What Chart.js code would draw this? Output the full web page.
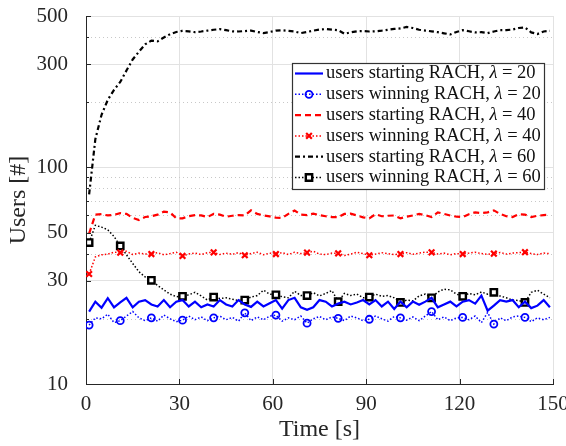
<!DOCTYPE html>
<html><head><meta charset="utf-8">
<script src="https://cdn.jsdelivr.net/npm/chart.js@4/dist/chart.umd.min.js"></script>
<style>html,body{margin:0;padding:0;background:#fff}</style>
</head><body>
<canvas id="c" width="566" height="446"></canvas>
<script>
// ---- data ----
const times = [1,3,5,7,9,11,13,15,17,19,21,23,25,27,29,31,33,35,37,39,41,43,45,47,49,51,53,55,57,59,61,63,65,67,69,71,73,75,77,79,81,83,85,87,89,91,93,95,97,99,101,103,105,107,109,111,113,115,117,119,121,123,125,127,129,131,133,135,137,139,141,143,145,147,149];

const startingL20 = [21.6,24,22.5,24.9,22.6,23.8,25,22.6,24,24.4,23.3,22.8,24.4,22.6,24,24.4,22.8,24,22.6,23.3,22.8,24.4,23.3,22.8,24.4,23.3,22.7,24,22.8,23.6,24.4,22.3,24.4,25,22.6,22,22.6,24.4,24,22.8,23.5,24,23.3,23.8,24.4,23.3,24.4,22.8,24,22.2,24,22.6,24,23.2,24,25,22.6,23.3,24,22.8,24,24.4,23.5,25.6,21.8,23,24.4,24,24.4,22.6,24,22.4,23,24.4,22.6];

const winningL20 = [18.7,20.2,20,21,19.2,19.6,20.6,21.6,20.2,19.6,20.2,19.5,20.8,20,19.4,19.7,20.6,19.8,20.4,19.6,20.2,20.6,19.8,20.3,19.5,21.3,19.6,20.4,19.8,20.6,20.8,19.5,20.2,19.8,20.6,19.1,20,20.5,19.8,20.4,20.1,19.6,20.6,20.2,19.6,19.9,20.6,20,19.5,20.5,20.2,19.7,20.4,19.6,20.6,21.6,19.8,20.4,19.6,20.2,20.3,19.8,20.6,19.2,21.4,18.9,20.2,19.6,20.4,20.6,20.3,19.4,20.2,19.8,20.3];

const startingL40 = [49.5,60.5,60.8,60,60.4,61.5,61,58.5,57.2,59,59.5,60.5,62.5,62,58.2,58.2,59.5,60.2,60,59,61,60.5,59.2,59.8,60.2,60,63.3,61,60,59.4,58.6,58.4,61,63.2,60.5,60.2,61.2,60.2,59.5,59,59,61,61.2,60,58.8,58.2,60.8,59.5,59.8,60,58.2,59.2,60,61,60.2,59,62,61,60,59.2,59,60.8,62,61.5,62,63.3,61,59.5,59,60.8,60.5,59,59.8,60.2,60.5];

const winningL40 = [32.2,38.6,39.5,39.8,40.6,40.4,41,39.6,40.2,39.8,39.8,40.4,39.5,40,40.6,39,39.8,40.2,39.6,40.4,40.5,39.6,40.2,39.7,40.4,39.3,40,40.6,39.5,40.2,39.8,40.4,39.6,40.6,40,40.4,41,39.8,39.6,40.2,40.1,39.2,39.8,40.6,40,39.3,39.8,40.4,40,39.6,39.8,40.4,39.7,40.2,40.6,40.5,39.8,40.2,39.5,40,39.8,40.2,40.6,40,39.7,40,40.5,39.8,40.2,40.4,40.6,40,39.6,40.2,40];

const startingL60 = [75,135,175,205,228,248,280,315,342,370,385,382,398,412,422,427,425,421,424,428,432,435,430,425,424,426,428,422,417,422,428,430,427,424,417,422,428,433,435,433,430,414,420,425,426,424,425,428,432,436,438,445,440,432,428,425,421,416,411,422,430,425,420,421,417,424,430,430,433,440,443,420,413,424,427];

const winningL60 = [45,54,53,51.5,48,43.4,39.5,36,33,31.2,30.1,28.5,27.2,26,25.3,25.4,25.8,26.5,25.5,24.4,25.2,24.8,25,24.6,24.3,24.4,25.2,25.6,27.1,26,25.8,25.3,25,26.8,25.6,25.6,26.4,25.5,26.2,27,24,26.2,25.6,26,25,25.2,26,25.4,25.6,25,23.8,24.4,24.2,25.5,26,25,26.6,27.4,27.2,26,25.4,26.2,25.8,26.6,26,26.5,25.5,25,24.4,24.3,23.8,26.5,27.1,26,25];

const seriesLabels = [
  'users starting RACH, λ = 20',
  'users winning RACH, λ = 20',
  'users starting RACH, λ = 40',
  'users winning RACH, λ = 40',
  'users starting RACH, λ = 60',
  'users winning RACH, λ = 60'
];
const xTicks = [0,30,60,90,120,150];
const yTicks = [10,30,50,100,300,500];
const yMinorGrid = [20,40,60,70,80,90,200,400];
const xTitle = 'Time [s]';
const yTitle = 'Users [#]';

// ---- styling ----
const FONT = 'Liberation Serif';
const TXT = '#262626';
const pts = ys => ys.map((v, i) => ({x: times[i], y: v}));
const every = r => c => (c.dataIndex % 5 === 0 ? r : 0);

const datasets = [
  {label: seriesLabels[0], data: pts(startingL20), borderColor: '#0000ff', borderWidth: 2.2, pointRadius: 0},
  {label: seriesLabels[1], data: pts(winningL20), borderColor: '#0000ff', borderWidth: 1.5, borderDash: [1.5, 2],
   pointStyle: 'circle', pointRadius: every(3.5), pointBorderWidth: 1.8, pointBorderColor: '#0000ff', pointBackgroundColor: 'rgba(255,255,255,0)'},
  {label: seriesLabels[2], data: pts(startingL40), borderColor: '#ff0000', borderWidth: 2.2, borderDash: [6, 4], pointRadius: 0},
  {label: seriesLabels[3], data: pts(winningL40), borderColor: '#ff0000', borderWidth: 1.5, borderDash: [1.5, 2],
   pointStyle: 'crossRot', pointRadius: every(4), pointBorderWidth: 2.2, pointBorderColor: '#ff0000', pointBackgroundColor: '#ff0000'},
  {label: seriesLabels[4], data: pts(startingL60), borderColor: '#000000', borderWidth: 2.2, borderDash: [5, 3, 2, 3], pointRadius: 0},
  {label: seriesLabels[5], data: pts(winningL60), borderColor: '#000000', borderWidth: 1.5, borderDash: [1.5, 2],
   pointStyle: 'rect', pointRadius: every(4.5), pointBorderWidth: 2.4, pointBorderColor: '#000000', pointBackgroundColor: '#ffffff'}
];
datasets.forEach(d => { d.fill = false; d.tension = 0; d.pointHoverRadius = 0; });

function drawMarker(ctx, style, x, y, r, bw, stroke, fill) {
  ctx.save();
  ctx.setLineDash([]);
  ctx.lineWidth = bw; ctx.strokeStyle = stroke; ctx.fillStyle = fill;
  ctx.beginPath();
  if (style === 'circle') { ctx.arc(x, y, r, 0, Math.PI * 2); ctx.fill(); ctx.stroke(); }
  else if (style === 'rect') { const s = r * Math.SQRT1_2; ctx.rect(x - s, y - s, 2 * s, 2 * s); ctx.fill(); ctx.stroke(); }
  else if (style === 'crossRot') { const o = r * Math.SQRT1_2; ctx.moveTo(x - o, y - o); ctx.lineTo(x + o, y + o); ctx.moveTo(x - o, y + o); ctx.lineTo(x + o, y - o); ctx.stroke(); }
  ctx.restore();
}

const decorPlugin = {
  id: 'decor',
  beforeDatasetsDraw(chart) {
    const {ctx, chartArea: a, scales: {y}} = chart;
    ctx.save();
    ctx.strokeStyle = '#c8c8c8'; ctx.lineWidth = 1; ctx.setLineDash([1, 3]);
    yMinorGrid.forEach(v => {
      const py = Math.round(y.getPixelForValue(v)) + 0.5;
      ctx.beginPath(); ctx.moveTo(a.left + 1, py); ctx.lineTo(a.right, py); ctx.stroke();
    });
    ctx.restore();
  },
  afterDatasetsDraw(chart) {
    const {ctx, chartArea: a, scales: {x, y}} = chart;
    ctx.save();
    // inward tick marks
    ctx.strokeStyle = TXT; ctx.lineWidth = 1; ctx.setLineDash([]);
    yTicks.concat(yMinorGrid).forEach(v => {
      const py = Math.round(y.getPixelForValue(v)) + 0.5;
      const len = yTicks.includes(v) ? 5 : 3;
      ctx.beginPath(); ctx.moveTo(a.left, py); ctx.lineTo(a.left + len, py); ctx.stroke();
    });
    xTicks.forEach(v => {
      const px = Math.round(x.getPixelForValue(v)) + 0.5;
      ctx.beginPath(); ctx.moveTo(px, a.bottom); ctx.lineTo(px, a.bottom - 5); ctx.stroke();
    });
    // legend box
    const w = 252, h = 126;
    const L = a.right - 9 - w, T = a.top + 47;
    ctx.fillStyle = '#ffffff'; ctx.fillRect(L, T, w, h);
    ctx.strokeStyle = '#333333'; ctx.lineWidth = 1.2; ctx.strokeRect(L + 0.5, T + 0.5, w, h);
    chart.data.datasets.forEach((d, i) => {
      const cy = T + 10.5 + i * 20.8;
      ctx.save();
      ctx.strokeStyle = d.borderColor; ctx.lineWidth = d.borderWidth;
      ctx.setLineDash(d.borderDash || []);
      ctx.beginPath(); ctx.moveTo(L + 3, cy); ctx.lineTo(L + 31, cy); ctx.stroke();
      ctx.restore();
      if (d.pointStyle) drawMarker(ctx, d.pointStyle, L + 17, cy, typeof d.pointRadius === 'function' ? d.pointRadius({dataIndex: 0}) : d.pointRadius, d.pointBorderWidth, d.pointBorderColor, d.pointBackgroundColor);
      // text with italic lambda
      const parts = d.label.split('λ');
      let tx = L + 34;
      ctx.fillStyle = '#111111'; ctx.textBaseline = 'middle'; ctx.textAlign = 'left';
      ctx.font = `18.5px "${FONT}"`;
      ctx.fillText(parts[0], tx, cy); tx += ctx.measureText(parts[0]).width;
      ctx.font = `italic 18.5px "${FONT}"`;
      ctx.fillText('λ', tx, cy); tx += ctx.measureText('λ').width;
      ctx.font = `18.5px "${FONT}"`;
      ctx.fillText(parts[1], tx, cy);
    });
    ctx.restore();
  }
};

new Chart(document.getElementById('c'), {
  type: 'line',
  data: {datasets},
  plugins: [decorPlugin],
  options: {
    responsive: false, animation: false, devicePixelRatio: 1,
    layout: {padding: {top: 16, right: 13, left: 0, bottom: 0}},
    plugins: {legend: {display: false}, tooltip: {enabled: false}},
    elements: {line: {borderCapStyle: 'butt'}},
    scales: {
      x: {
        type: 'linear', min: 0, max: 150,
        afterBuildTicks: s => { s.ticks = xTicks.map(v => ({value: v})); },
        afterFit: s => { s.height = 62; s.paddingLeft = 0; s.paddingRight = 0; },
        grid: {color: '#e2e2e2', lineWidth: 1, drawTicks: false},
        border: {color: TXT, width: 1},
        ticks: {font: {family: FONT, size: 21}, color: TXT, padding: 8, maxRotation: 0, autoSkip: false,
                callback: v => String(v)},
        title: {display: true, text: xTitle, font: {family: FONT, size: 24}, color: TXT, padding: {top: 0, bottom: 2}}
      },
      y: {
        type: 'logarithmic', min: 10, max: 500,
        afterBuildTicks: s => { s.ticks = yTicks.map(v => ({value: v})); },
        afterFit: s => { s.width = 86; s.paddingTop = 0; s.paddingBottom = 0; },
        grid: {color: '#e2e2e2', lineWidth: 1, drawTicks: false},
        border: {color: TXT, width: 1},
        ticks: {font: {family: FONT, size: 21}, color: TXT, padding: 18, autoSkip: false,
                callback: v => String(v)},
        title: {display: true, text: yTitle, font: {family: FONT, size: 24}, color: TXT, padding: {top: 4, bottom: 0}}
      }
    }
  }
});
</script>
</body></html>
